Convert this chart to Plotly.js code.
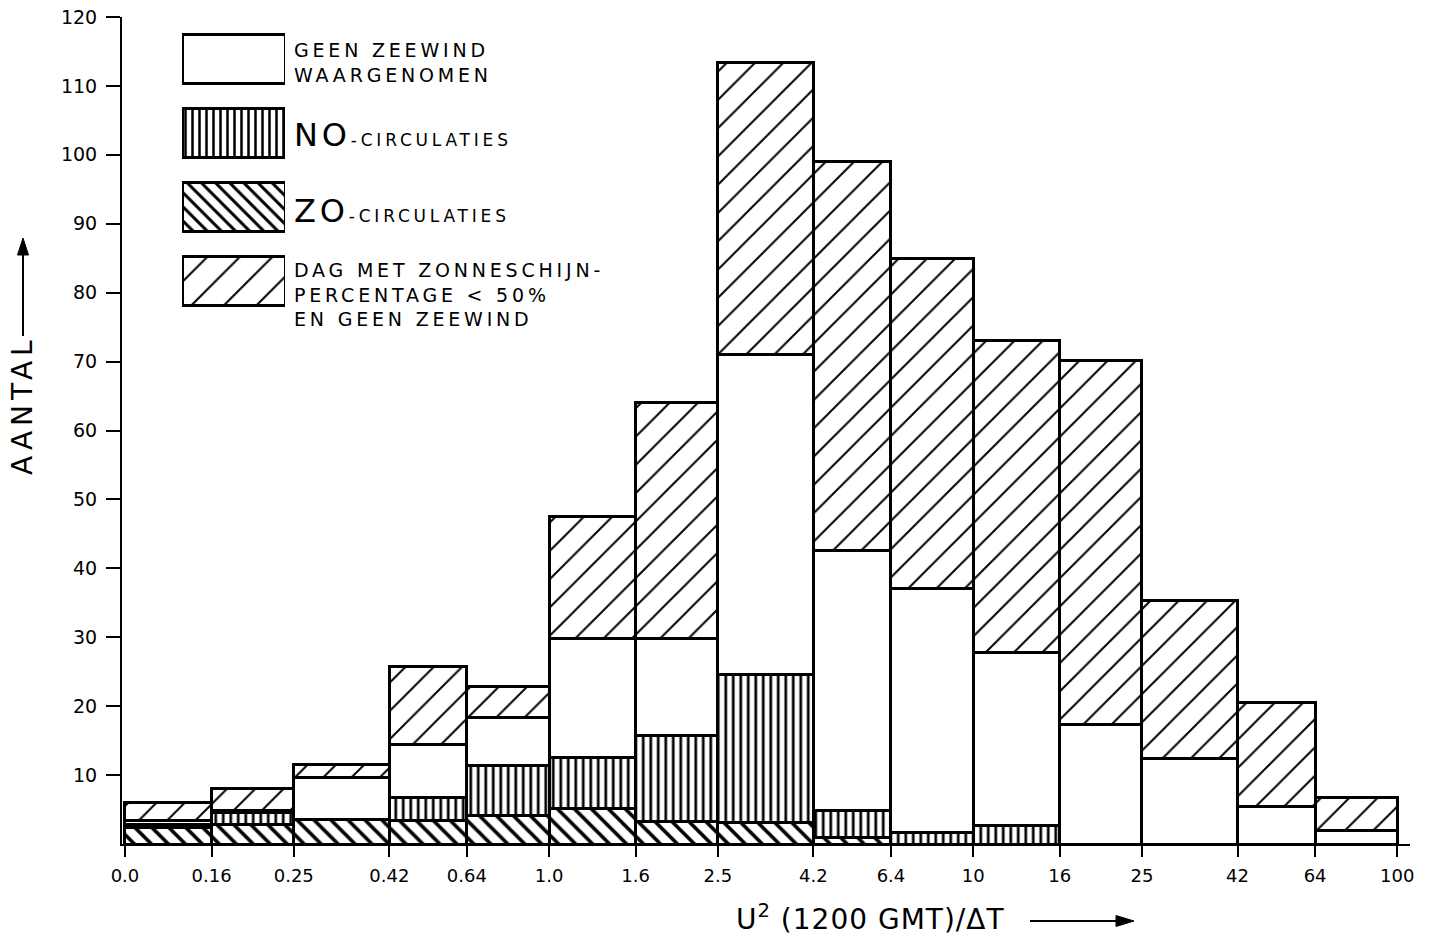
<!DOCTYPE html>
<html>
<head>
<meta charset="utf-8">
<script src="https://cdn.plot.ly/plotly-3.0.1.min.js"></script>
<style>
  html, body { margin: 0; padding: 0; background: #ffffff; }
  #chart { width: 1438px; height: 942px; }
</style>
</head>
<body>
<div id="chart"></div>
<script>
// ---------------- DATA ----------------
// Class boundaries of U^2 (1200 GMT)/ΔT (logarithmic axis; the lowest edge labelled "0.0" sits at 0.1)
const edgeLabels = ['0.0', '0.16', '0.25', '0.42', '0.64', '1.0', '1.6', '2.5', '4.2', '6.4', '10', '16', '25', '42', '64', '100'];
const edgeValues = [0.1, 0.16, 0.25, 0.42, 0.64, 1.0, 1.6, 2.5, 4.2, 6.4, 10, 16, 25, 42, 64, 100];

// Counts per class (stacked from bottom to top)
const zoCirculaties = [2.4, 2.9, 3.5, 3.4, 4.2, 5.1, 3.3, 3.1, 1.0, 0, 0, 0, 0, 0, 0];
const noCirculaties = [0.4, 1.7, 0, 3.4, 7.2, 7.4, 12.5, 21.5, 3.8, 1.7, 2.7, 0, 0, 0, 0];
const geenZeewind   = [0.6, 0.2, 6.1, 7.6, 7.0, 17.3, 14.0, 46.5, 37.8, 35.4, 25.1, 17.3, 12.4, 5.4, 2.0];
const dagZonneschijn= [2.6, 3.3, 2.0, 11.3, 4.4, 17.7, 34.2, 42.3, 56.5, 47.9, 45.3, 52.8, 23.0, 15.1, 4.8];

const yTickValues = [10, 20, 30, 40, 50, 60, 70, 80, 90, 100, 110, 120];

const legendLabels = [
  'GEEN ZEEWIND<br>WAARGENOMEN',
  'NO<span style="font-size:17px">-CIRCULATIES</span>',
  'ZO<span style="font-size:17px">-CIRCULATIES</span>',
  'DAG MET ZONNESCHIJN-<br>PERCENTAGE &lt; 50%<br>EN GEEN ZEEWIND'
];
const yTitle = 'AANTAL';
const xTitle = 'U<sup>2</sup> (1200 GMT)/ΔT';

// ---------------- BUILD ----------------
const FONT = 'DejaVu Sans, Liberation Sans, Arial, sans-serif';
const logEdges = edgeValues.map(v => Math.log10(v));
const centers = [], widths = [];
for (let i = 0; i < logEdges.length - 1; i++) {
  centers.push((logEdges[i] + logEdges[i + 1]) / 2);
  widths.push(logEdges[i + 1] - logEdges[i]);
}

const outline = { color: '#000', width: 3 };
function barTrace(name, values, shape, size, solidity) {
  return {
    type: 'bar', name: name, x: centers, y: values, width: widths,
    marker: {
      color: '#fff', line: outline,
      pattern: { shape: shape, fgcolor: '#000', bgcolor: '#fff', size: size, solidity: solidity, fillmode: 'replace' }
    },
    hoverinfo: 'skip', showlegend: false
  };
}

const traces = [
  barTrace('ZO-circulaties', zoCirculaties, '\\', 12, 0.3),
  barTrace('NO-circulaties', noCirculaties, '|', 7.5, 0.36),
  barTrace('Geen zeewind waargenomen', geenZeewind, '', 10, 0.1),
  barTrace('Dag met zonneschijnpercentage < 50% en geen zeewind', dagZonneschijn, '/', 20, 0.1),
  // legend swatches
  {
    type: 'bar', orientation: 'h', x: [1, 1, 1, 1], y: [0, 1, 2, 3], width: 0.66,
    xaxis: 'x2', yaxis: 'y2', cliponaxis: false, hoverinfo: 'skip', showlegend: false,
    marker: {
      color: '#fff', line: outline,
      pattern: { shape: ['', '|', '\\', '/'], size: [10, 7, 10, 23], solidity: [0.1, 0.36, 0.3, 0.09],
                 fgcolor: '#000', bgcolor: '#fff', fillmode: 'replace' }
    }
  }
];

// layout helpers: pixel -> paper coordinates (plot area 122..1410 x 17..844)
const L = 122, R = 28, T = 17, B = 98;
const PW = 1438 - L - R, PH = 942 - T - B;
const PX = x => (x - L) / PW;
const PY = y => (942 - B - y) / PH;

const annotations = [
  { text: legendLabels[0], x: PX(292), y: PY(62), font: { size: 19 } },
  { text: legendLabels[1], x: PX(292), y: PY(135), font: { size: 32 } },
  { text: legendLabels[2], x: PX(292), y: PY(211), font: { size: 32 } },
  { text: legendLabels[3], x: PX(292), y: PY(294), font: { size: 19 } },
].map(a => Object.assign({ xref: 'paper', yref: 'paper', xanchor: 'left', yanchor: 'middle', align: 'left', showarrow: false }, a));

annotations.push(
  { text: yTitle, textangle: -90, xref: 'paper', yref: 'paper', x: PX(22), y: PY(405), xanchor: 'center', yanchor: 'middle',
    showarrow: false, font: { size: 28 } },
  { text: xTitle, xref: 'paper', yref: 'paper', x: PX(742), y: PY(917), xanchor: 'left', yanchor: 'middle',
    showarrow: false, font: { size: 28 } }
);
const letterSpacing = [3.8, 3.8, 3.8, 3.8, 5, 1];

// arrows next to the axis titles (decoration)
const arrowLine = { color: '#000', width: 2 };
const shapes = [
  { type: 'line', xref: 'paper', yref: 'paper', x0: PX(23), y0: PY(336), x1: PX(23), y1: PY(252), line: arrowLine },
  { type: 'path', xref: 'paper', yref: 'paper', fillcolor: '#000', line: { color: '#000', width: 1 },
    path: `M ${PX(23)},${PY(238)} L ${PX(17.5)},${PY(255)} L ${PX(28.5)},${PY(255)} Z` },
  { type: 'line', xref: 'paper', yref: 'paper', x0: PX(1030), y0: PY(921), x1: PX(1118), y1: PY(921), line: arrowLine },
  { type: 'path', xref: 'paper', yref: 'paper', fillcolor: '#000', line: { color: '#000', width: 1 },
    path: `M ${PX(1134)},${PY(921)} L ${PX(1116)},${PY(915.5)} L ${PX(1116)},${PY(926.5)} Z` }
];

const layout = {
  width: 1438, height: 942,
  margin: { l: L, r: R, t: T, b: B, pad: 0 },
  paper_bgcolor: '#fff', plot_bgcolor: '#fff',
  font: { family: FONT, color: '#000', size: 18 },
  barmode: 'stack', bargap: 0,
  showlegend: false,
  xaxis: {
    range: [-1.007, 2.03], tickmode: 'array', tickvals: logEdges, ticktext: edgeLabels,
    ticks: 'outside', ticklen: 11, tickwidth: 2, tickcolor: '#000',
    showline: true, linewidth: 2, linecolor: '#000', showgrid: false, zeroline: false,
    tickfont: { size: 18 }, ticklabelstandoff: 3, fixedrange: true
  },
  yaxis: {
    range: [0, 120], tickmode: 'array', tickvals: yTickValues,
    ticks: 'outside', ticklen: 14, tickwidth: 2, tickcolor: '#000',
    showline: true, linewidth: 2, linecolor: '#000', showgrid: false, zeroline: false,
    tickfont: { size: 19 }, ticklabelstandoff: 5, fixedrange: true
  },
  xaxis2: { domain: [PX(182), PX(285)], anchor: 'y2', range: [0, 1], visible: false, fixedrange: true },
  yaxis2: { domain: [PY(318), PY(22)], anchor: 'x2', range: [3.5, -0.5], visible: false, fixedrange: true },
  annotations: annotations,
  shapes: shapes
};

Plotly.newPlot('chart', traces, layout, { staticPlot: true, displayModeBar: false }).then(gd => {
  gd.querySelectorAll('g.annotation').forEach(g => {
    const i = +g.getAttribute('data-index');
    const t = g.querySelector('text.annotation-text');
    if (t && letterSpacing[i]) t.style.letterSpacing = letterSpacing[i] + 'px';
  });
});
</script>
</body>
</html>
